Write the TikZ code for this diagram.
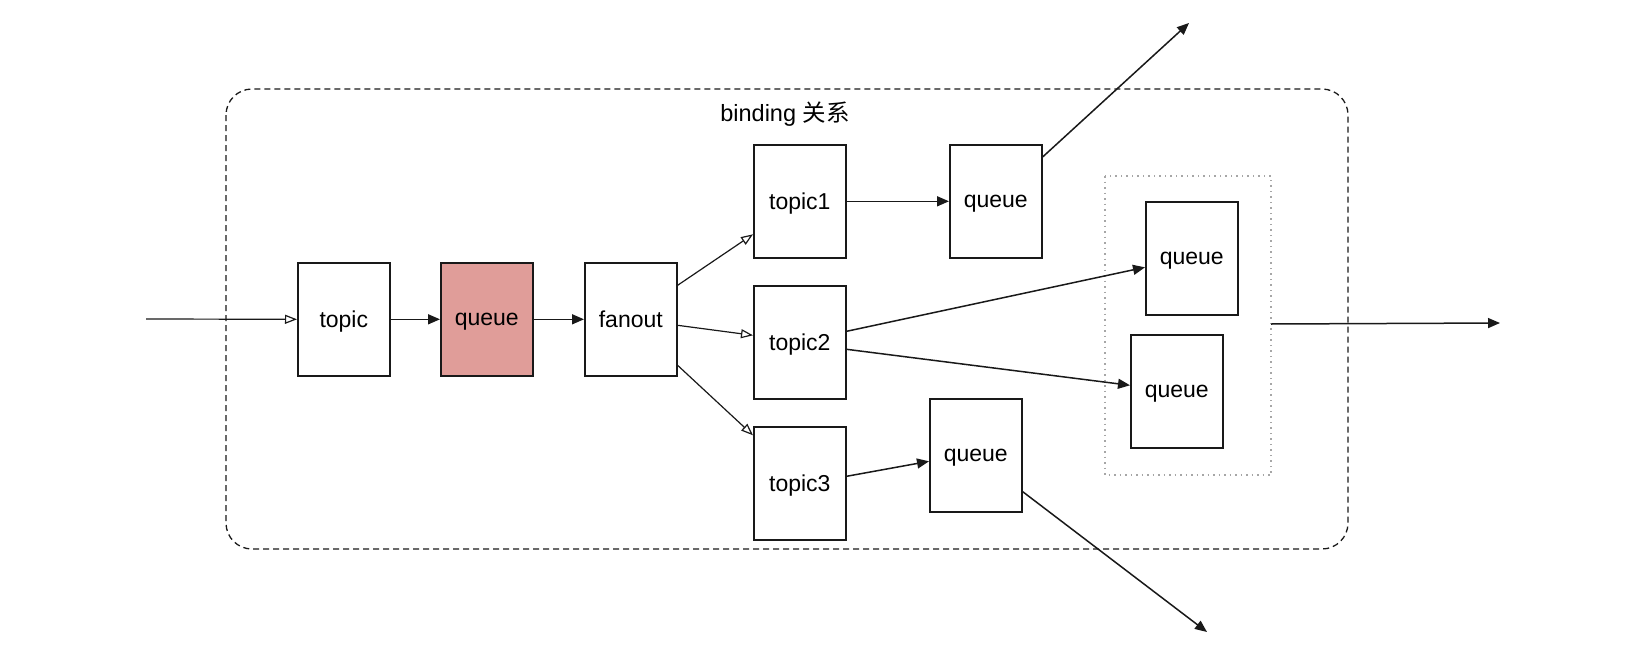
\documentclass[tikz,border=0pt]{standalone}
\usepackage{fontspec}
\setmainfont{Liberation Sans}
\newfontfamily\cjk{Noto Sans CJK SC}
\usetikzlibrary{arrows.meta}
\definecolor{qred}{RGB}{224,157,153}
\definecolor{edge}{RGB}{25,25,25}
\tikzset{
  box/.style={draw=edge, line width=1.6pt, minimum width=92pt, minimum height=113pt, inner sep=0pt, text depth=0pt, font=\fontsize{23}{27}\selectfont, anchor=north west},
  solidarr/.style={draw=edge, line width=1.5pt, -{Triangle[length=12pt,width=10pt]}},
  openarr/.style={draw=edge, line width=1.2pt, -{Triangle[open,length=12pt,width=9pt]}},
}
\begin{document}
\begin{tikzpicture}[x=1pt,y=-1pt]
\useasboundingbox (0,0) rectangle (1638,656);
% frames
\draw[edge, line width=1.3pt, dash pattern=on 6pt off 4pt, rounded corners=26pt] (226,89) rectangle (1348,549);
\node[font=\fontsize{23.5}{27}\selectfont] (lbl) at (785,114) {binding {\cjk 关系}};
\draw[gray!70, line width=1.7pt, dash pattern=on 1.5pt off 4pt] (1105,176) rectangle (1271,475);
\coordinate (grp) at (1271,324);
% nodes
\node[box] (topic) at (297,262) {topic};
\node[box, fill=qred] (q0) at (440,262) {queue};
\node[box] (fanout) at (584,262) {fanout};
\node[box] (t1) at (753,144) {topic1};
\node[box] (t2) at (753,285) {topic2};
\node[box] (t3) at (753,426) {topic3};
\node[box] (qa) at (949,144) {queue};
\node[box] (qb) at (1145,201) {queue};
\node[box] (qc) at (1130,334) {queue};
\node[box] (qd) at (929,398) {queue};
% free ends
\coordinate (in) at (146,319);
\coordinate (outtop) at (1189,23);
\coordinate (outbot) at (1207,632);
\coordinate (outright) at (1500,323);
% connectors
\draw[openarr] (in) -- (topic.west);
\draw[solidarr] (topic.east) -- (q0.west);
\draw[solidarr] (q0.east) -- (fanout.west);
\draw[openarr] ([yshift=34pt]fanout.east) -- ([yshift=-33pt]t1.west);
\draw[openarr] ([yshift=-6pt]fanout.east) -- ([yshift=7pt]t2.west);
\draw[openarr] ([yshift=-46pt]fanout.east) -- ([yshift=48pt]t3.west);
\draw[solidarr] (t1.east) -- (qa.west);
\draw[solidarr] ([yshift=11pt]t2.east) -- ([yshift=-9pt]qb.west);
\draw[solidarr] ([yshift=-7pt]t2.east) -- ([yshift=6pt]qc.west);
\draw[solidarr] ([yshift=7pt]t3.east) -- ([yshift=-6pt]qd.west);
\draw[solidarr] ([yshift=-13pt]qa.north east) -- (outtop);
\draw[solidarr] ([yshift=21pt]qd.south east) -- (outbot);
\draw[solidarr] (grp) -- (outright);
\end{tikzpicture}
\end{document}
